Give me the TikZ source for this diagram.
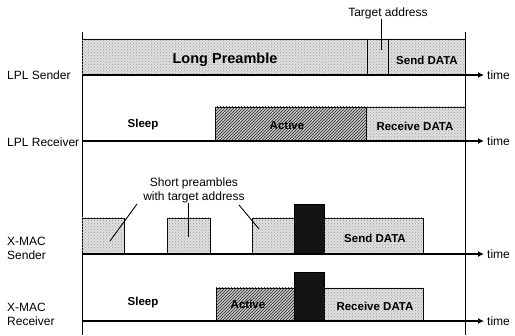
\documentclass[tikz,border=0pt]{standalone}
\usepackage{fontspec}
\setmainfont{Liberation Sans}
\usetikzlibrary{patterns,arrows.meta}
\begin{document}
\begin{tikzpicture}[x=1pt,y=-1pt,
  lbl/.style={font=\fontsize{12}{14}\selectfont, inner sep=0pt},
  boxtxt/.style={font=\fontsize{11.5}{13}\selectfont\bfseries, inner sep=0pt},
  dotted box/.style={draw=black, line width=0.8pt, fill=gray!25, postaction={pattern=crosshatch dots, pattern color=gray!75}},
  hatch box/.style={draw=black, line width=0.8pt, fill=gray!45, postaction={pattern=north east lines, pattern color=black!85}},
  dark box/.style={draw=black, line width=0.8pt, fill=black!92},
  axis/.style={line width=1.6pt, -{Latex[length=6pt,width=6pt]}},
  vline/.style={line width=1pt},
  leader/.style={line width=0.9pt}]
\useasboundingbox (0,0) rectangle (515,336);
% vertical reference lines
\draw[vline] (82,32) -- (82,335);
\draw[vline] (465,32) -- (465,335);

% ---------- LPL Sender ----------
\draw[dotted box] (82,39) rectangle (465,75);
\draw[line width=0.8pt] (367,39) -- (367,75);
\draw[line width=0.8pt] (388,39) -- (388,75);
\coordinate (s1) at (82,75);
\coordinate (e1) at (484,75);
\draw[axis] (s1) -- (e1);
\node[font=\fontsize{14.5}{16}\selectfont\bfseries, inner sep=0pt] (lp) at (225,60) {Long Preamble};
\node[boxtxt] (sd1) at (427,60) {Send DATA};
\node[lbl] (ta) at (388,13) {Target address};
\coordinate (tap) at (381,50);
\draw[line width=0.8pt] (ta.south -| tap) -- (tap);
\node[lbl, anchor=west] (t1) at (487,75) {time};
\node[lbl, anchor=west] (n1) at (7,75) {LPL Sender};

% ---------- LPL Receiver ----------
\draw[hatch box] (215,107) rectangle (366,141);
\draw[dotted box] (366,107) rectangle (465,141);
\coordinate (s2) at (82,141);
\coordinate (e2) at (484,141);
\draw[axis] (s2) -- (e2);
\node[boxtxt] (sl1) at (143,125) {Sleep};
\node[boxtxt] (ac1) at (287,125) {Active};
\node[boxtxt] (rd1) at (415,126) {Receive DATA};
\node[lbl, anchor=west] (t2) at (487,141) {time};
\node[lbl, anchor=west] (n2) at (7,142) {LPL Receiver};

% ---------- X-MAC Sender ----------
\draw[dotted box] (82,218) rectangle (124,254);
\draw[dotted box] (167,218) rectangle (210,254);
\draw[dotted box] (252,218) rectangle (294,254);
\draw[dark box] (294,204) rectangle (324,254);
\draw[dotted box] (324,218) rectangle (423,254);
\coordinate (s3) at (82,254);
\coordinate (e3) at (484,254);
\draw[axis] (s3) -- (e3);
\node[boxtxt] (sd2) at (375,238) {Send DATA};
\node[lbl, align=center] (sp) at (194,190) {Short preambles\\with target address};
\coordinate (p1) at (110,241);
\coordinate (p2) at (188,237);
\coordinate (p3) at (259,229);
\draw[leader] (137,204) -- (p1);
\draw[leader] (sp.south -| p2) -- (p2);
\draw[leader] (239,205) -- (p3);
\node[lbl, anchor=west] (t3) at (487,254) {time};
\node[lbl, anchor=west, align=left] (n3) at (7,248) {X-MAC\\Sender};

% ---------- X-MAC Receiver ----------
\draw[hatch box] (216,288) rectangle (294,321);
\draw[dark box] (294,272) rectangle (324,321);
\draw[dotted box] (324,288) rectangle (423,321);
\coordinate (s4) at (82,321);
\coordinate (e4) at (484,321);
\draw[axis] (s4) -- (e4);
\node[boxtxt] (sl2) at (143,303) {Sleep};
\node[boxtxt] (ac2) at (248,304) {Active};
\node[boxtxt] (rd2) at (375,306) {Receive DATA};
\node[lbl, anchor=west] (t4) at (487,321) {time};
\node[lbl, anchor=west, align=left] (n4) at (7,314) {X-MAC\\Receiver};
\end{tikzpicture}
\end{document}
